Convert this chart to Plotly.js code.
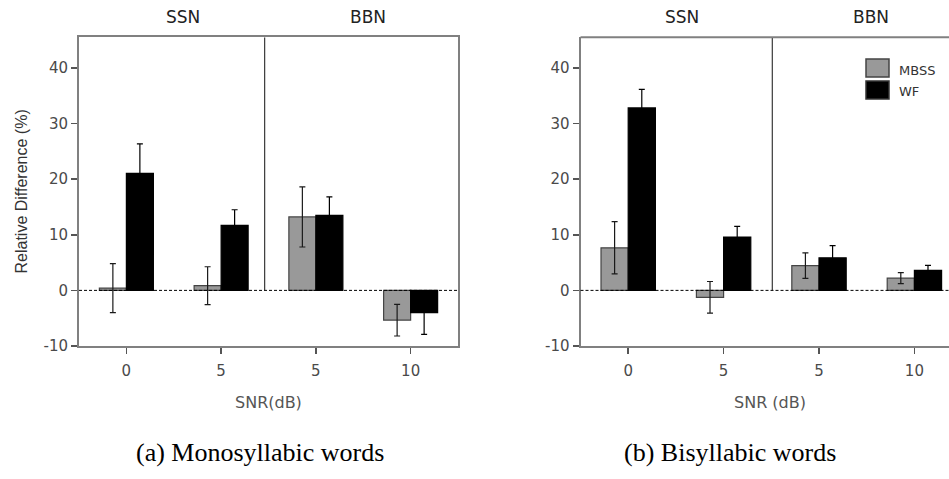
<!DOCTYPE html>
<html>
<head>
<meta charset="utf-8">
<script src="https://cdn.plot.ly/plotly-3.0.1.min.js"></script>
<style>html,body{margin:0;padding:0;background:#fff;}#chart{width:949px;height:479px;}</style>
</head>
<body>
<div id="chart"></div>
<script>
// ---- data ----
const snrLabels = ['0', '5', '5', '10'];
const noiseGroups = ['SSN', 'BBN'];
const seriesNames = ['MBSS', 'WF'];
const monoMBSS = [0.4, 0.85, 13.2, -5.35];
const monoMBSSerr = [4.4, 3.4, 5.4, 2.85];
const monoWF = [21.05, 11.7, 13.5, -4.0];
const monoWFerr = [5.3, 2.8, 3.3, 3.9];
const biMBSS = [7.65, -1.25, 4.45, 2.2];
const biMBSSerr = [4.7, 2.85, 2.3, 1.0];
const biWF = [32.8, 9.6, 5.85, 3.6];
const biWFerr = [3.35, 1.9, 2.2, 0.9];
const yTicks = [-10, 0, 10, 20, 30, 40];
const captions = ['(a) Monosyllabic words', '(b) Bisyllabic words'];
const xTitles = ['SNR(dB)', 'SNR (dB)'];
const yTitle = 'Relative Difference (%)';

// ---- layout helpers ----
const W = 949, H = 479;
const px = x => x / W;
const py = y => (H - y) / H;
const idx = snrLabels.map((_, i) => i);
const greyFill = '#999999';
const tickFont = {family: 'DejaVu Sans, Liberation Sans, sans-serif', size: 15, color: '#4a4a4a'};

function barTrace(y, err, name, xa, ya) {
  const grey = name === seriesNames[0];
  return {
    type: 'bar', x: idx, y: y, name: name, xaxis: xa, yaxis: ya, showlegend: false,
    marker: {color: grey ? greyFill : '#000000', line: {color: grey ? '#444' : '#000', width: 1.2}},
    error_y: {type: 'data', array: err, visible: true, color: grey ? '#1a1a1a' : '#000000', thickness: 1.2, width: 3},
    hoverinfo: 'skip'
  };
}

const data = [
  barTrace(monoMBSS, monoMBSSerr, seriesNames[0], 'x', 'y'),
  barTrace(monoWF, monoWFerr, seriesNames[1], 'x', 'y'),
  barTrace(biMBSS, biMBSSerr, seriesNames[0], 'x2', 'y2'),
  barTrace(biWF, biWFerr, seriesNames[1], 'x2', 'y2')
];

const yDomain = [py(346), py(37.3)];
const yRange = [-10, 45.5];
const axisLine = '#808080';

function xAxis(domain, range, mirror) {
  return {
    domain: domain, range: range, tickmode: 'array', tickvals: idx, ticktext: snrLabels,
    showline: true, linecolor: axisLine, linewidth: 2, mirror: mirror,
    ticks: 'outside', ticklen: 6, tickwidth: 1.5, tickcolor: '#555',
    ticklabelstandoff: 4, tickfont: tickFont, showgrid: false, zeroline: false, fixedrange: true
  };
}
function yAxis(anchor, mirror) {
  return {
    domain: yDomain, range: yRange, anchor: anchor, tickmode: 'array', tickvals: yTicks,
    ticktext: yTicks.map(String),
    showline: true, linecolor: axisLine, linewidth: 2, mirror: mirror,
    ticks: 'outside', ticklen: 6, tickwidth: 1.5, tickcolor: '#555',
    tickfont: tickFont, showgrid: false, zeroline: false, fixedrange: true
  };
}

const rightEnd = -0.5 + (W - 580.5) / 95.4;

const shapes = [
  // zero reference lines
  {type: 'line', xref: 'x domain', yref: 'y', x0: 0, x1: 1, y0: 0, y1: 0, line: {color: '#000', width: 1, dash: '3px,2px'}},
  {type: 'line', xref: 'x2 domain', yref: 'y2', x0: 0, x1: 1, y0: 0, y1: 0, line: {color: '#000', width: 1, dash: '3px,2px'}},
  // SSN / BBN dividers
  {type: 'line', xref: 'x', yref: 'y', x0: 1.46, x1: 1.46, y0: 0, y1: yRange[1], line: {color: '#111', width: 1}},
  {type: 'line', xref: 'x2', yref: 'y2', x0: 1.51, x1: 1.51, y0: 0, y1: yRange[1], line: {color: '#111', width: 1}},
  // legend swatches
  {type: 'rect', xref: 'paper', yref: 'paper', x0: px(866), x1: px(889), y0: py(77), y1: py(59), fillcolor: greyFill, line: {color: '#444', width: 1.5}},
  {type: 'rect', xref: 'paper', yref: 'paper', x0: px(866), x1: px(889), y0: py(99), y1: py(81), fillcolor: '#000', line: {color: '#333', width: 1.5}},
  // top border for right panel (no right border in reference)
  {type: 'line', xref: 'x2 domain', yref: 'y2 domain', x0: 0, x1: 1, y0: 1, y1: 1, line: {color: axisLine, width: 2}}
];

const labFont = {family: 'DejaVu Sans, Liberation Sans, sans-serif', size: 17, color: '#222'};
const ann = (text, x, y, font, extra) => Object.assign({text: text, xref: 'paper', yref: 'paper', x: px(x), y: py(y), showarrow: false, font: font, xanchor: 'center', yanchor: 'middle'}, extra || {});

const annotations = [
  ann(noiseGroups[0], 183, 17, labFont),
  ann(noiseGroups[1], 368, 17, labFont),
  ann(noiseGroups[0], 682, 17, labFont),
  ann(noiseGroups[1], 871, 17, labFont),
  ann(xTitles[0], 268, 402, {family: 'DejaVu Sans, sans-serif', size: 16, color: '#555'}),
  ann(xTitles[1], 770, 402, {family: 'DejaVu Sans, sans-serif', size: 16, color: '#555'}),
  ann(yTitle, 21, 191.5, {family: 'Liberation Sans, Arial, sans-serif', size: 16, color: '#333'}, {textangle: -90}),
  ann(seriesNames[0], 897, 70.7, {family: 'DejaVu Sans, sans-serif', size: 13, color: '#333'}, {xanchor: 'left'}),
  ann(seriesNames[1], 897, 91.5, {family: 'DejaVu Sans, sans-serif', size: 13, color: '#333'}, {xanchor: 'left'}),
  ann(captions[0], 260, 452, {family: 'Liberation Serif, Times New Roman, serif', size: 26, color: '#000'}),
  ann(captions[1], 730, 452, {family: 'Liberation Serif, Times New Roman, serif', size: 26, color: '#000'})
];

const layout = {
  width: W, height: H,
  margin: {l: 0, r: 0, t: 0, b: 0, pad: 0},
  paper_bgcolor: '#fff', plot_bgcolor: '#fff',
  barmode: 'group', bargap: 0.43, bargroupgap: 0,
  showlegend: false,
  xaxis: xAxis([px(79), px(458)], [-0.5, 3.5], true),
  yaxis: yAxis('x', true),
  xaxis2: Object.assign(xAxis([px(580.5), 1], [-0.5, rightEnd], false), {anchor: 'y2'}),
  yaxis2: yAxis('x2', false),
  shapes: shapes,
  annotations: annotations
};

Plotly.newPlot('chart', data, layout, {displayModeBar: false, staticPlot: true});
</script>
</body>
</html>
